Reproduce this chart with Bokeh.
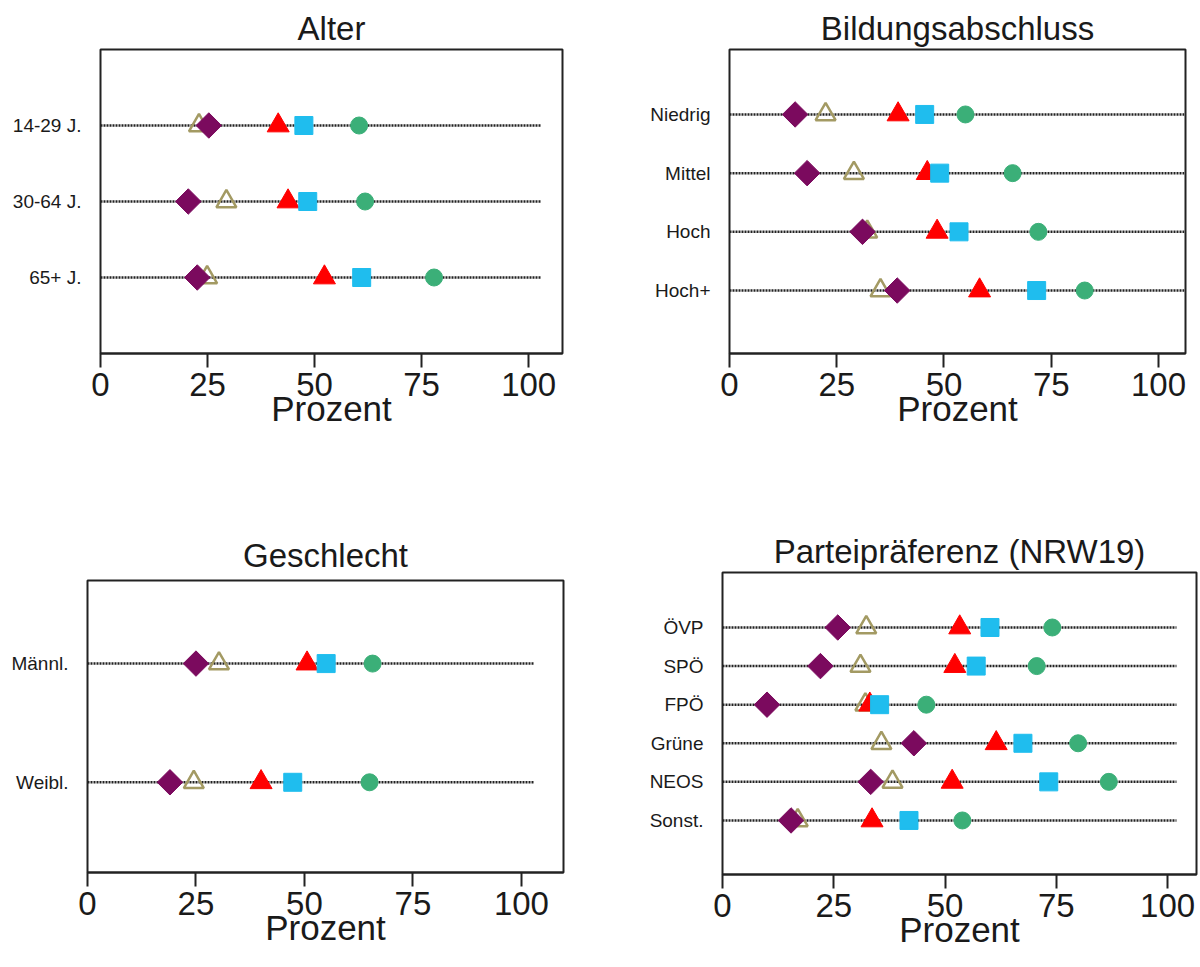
import math
from bokeh.plotting import figure
from bokeh.layouts import column, row
from bokeh.models import Range1d, FixedTicker, Spacer
from bokeh.embed import file_html
from bokeh.resources import INLINE

# ---------------- data ----------------
alter_cats = ["14-29 J.", "30-64 J.", "65+ J."]
alter_diamond = [25.3, 20.5, 22.6]
alter_open_tri = [23.0, 29.4, 24.9]
alter_red_tri = [41.5, 43.8, 52.3]
alter_square = [47.5, 48.4, 61.0]
alter_circle = [60.4, 61.8, 77.9]

bildung_cats = ["Niedrig", "Mittel", "Hoch", "Hoch+"]
bildung_diamond = [15.3, 18.1, 31.0, 39.1]
bildung_open_tri = [22.4, 29.0, 32.1, 35.2]
bildung_red_tri = [39.3, 46.1, 48.4, 58.3]
bildung_square = [45.5, 49.0, 53.5, 71.6]
bildung_circle = [55.0, 66.0, 72.0, 82.8]

geschlecht_cats = ["Männl.", "Weibl."]
geschlecht_diamond = [25.0, 19.0]
geschlecht_open_tri = [30.3, 24.5]
geschlecht_red_tri = [50.6, 40.0]
geschlecht_square = [55.0, 47.3]
geschlecht_circle = [65.7, 65.0]

partei_cats = ["ÖVP", "SPÖ", "FPÖ", "Grüne", "NEOS", "Sonst."]
partei_diamond = [25.9, 22.0, 10.0, 43.0, 33.3, 15.4]
partei_open_tri = [32.3, 31.0, 32.1, 35.7, 38.2, 16.9]
partei_red_tri = [53.3, 52.2, 33.1, 61.5, 51.6, 33.6]
partei_square = [60.1, 57.0, 35.3, 67.5, 73.3, 41.9]
partei_circle = [74.1, 70.6, 45.8, 79.9, 86.8, 53.9]

x_ticks = [0, 25, 50, 75, 100]
x_label = "Prozent"

# ---------------- style ----------------
FONT = "Liberation Sans"
C_DIAMOND = "#7B0A5E"
C_OPEN = "#A39A63"
C_RED = "#FF0000"
C_SQUARE = "#1FBDEE"
C_CIRCLE = "#3BAF78"
TEXT = "#1a1a1a"


def make_panel(title, cats, diamond, open_tri, red_tri, square, circle, *,
               mb_left, fw, mb_right, mb_top, fh, mb_bottom,
               x_end, y_start, y_end, dot_end=103, title_standoff=5):
    n = len(cats)
    pos = list(range(1, n + 1))
    p = figure(frame_width=fw, frame_height=fh,
               min_border_left=mb_left, min_border_right=mb_right,
               min_border_top=mb_top, min_border_bottom=mb_bottom,
               x_range=Range1d(0, x_end), y_range=Range1d(y_start, y_end),
               output_backend="svg", toolbar_location=None,
               title=title)
    p.grid.visible = False
    p.background_fill_color = "white"
    p.border_fill_color = "white"
    p.outline_line_color = "#222222"
    p.outline_line_width = 2

    p.title.text_font = FONT
    p.title.text_font_size = "33px"
    p.title.text_font_style = "normal"
    p.title.text_color = TEXT
    p.title.align = "center"
    p.title.standoff = title_standoff

    # dotted guide lines
    p.segment(x0=[0] * n, x1=[dot_end] * n, y0=pos, y1=pos,
              line_color="#222222", line_width=2.5, line_dash="2 1")

    p.scatter(open_tri, pos, marker="triangle", size=20, fill_color=None,
              line_color=C_OPEN, line_width=2.5)
    p.scatter(diamond, pos, marker="square", angle=math.pi / 4, size=18,
              fill_color=C_DIAMOND, line_color=C_DIAMOND)
    p.scatter(red_tri, pos, marker="triangle", size=22,
              fill_color=C_RED, line_color=C_RED)
    p.scatter(square, pos, marker="square", size=18,
              fill_color=C_SQUARE, line_color=C_SQUARE)
    p.scatter(circle, pos, marker="circle", size=17,
              fill_color=C_CIRCLE, line_color=C_CIRCLE)

    # y axis: labels only
    ya = p.yaxis[0]
    ya.ticker = FixedTicker(ticks=pos)
    ya.major_label_overrides = {i: c for i, c in zip(pos, cats)}
    ya.major_tick_line_color = None
    ya.minor_tick_line_color = None
    ya.axis_line_color = None
    ya.major_label_text_font = FONT
    ya.major_label_text_font_size = "19px"
    ya.major_label_text_color = TEXT
    ya.major_label_standoff = 13

    # x axis
    xa = p.xaxis[0]
    xa.ticker = FixedTicker(ticks=x_ticks)
    xa.minor_tick_line_color = None
    xa.major_tick_in = 0
    xa.major_tick_out = 14
    xa.major_tick_line_width = 2
    xa.major_tick_line_color = "#222222"
    xa.axis_line_width = 2
    xa.axis_line_color = "#222222"
    xa.major_label_text_font = FONT
    xa.major_label_text_font_size = "33px"
    xa.major_label_text_color = TEXT
    xa.major_label_standoff = 5
    xa.axis_label = x_label
    xa.axis_label_text_font = FONT
    xa.axis_label_text_font_size = "35px"
    xa.axis_label_text_font_style = "normal"
    xa.axis_label_text_color = TEXT
    xa.axis_label_standoff = -10
    return p


p1 = make_panel("Alter", alter_cats, alter_diamond, alter_open_tri,
                alter_red_tri, alter_square, alter_circle,
                mb_left=100, fw=462, mb_right=77, mb_top=49, fh=304, mb_bottom=135,
                x_end=107.9, y_start=4.0, y_end=0.0)
p2 = make_panel("Bildungsabschluss", bildung_cats, bildung_diamond, bildung_open_tri,
                bildung_red_tri, bildung_square, bildung_circle,
                mb_left=90, fw=456, mb_right=14, mb_top=49, fh=304, mb_bottom=135,
                x_end=106.3, y_start=5.073, y_end=-0.107, dot_end=106)
p3 = make_panel("Geschlecht", geschlecht_cats, geschlecht_diamond, geschlecht_open_tri,
                geschlecht_red_tri, geschlecht_square, geschlecht_circle,
                mb_left=87, fw=476, mb_right=69, mb_top=84, fh=292, mb_bottom=92,
                x_end=109.7, y_start=2.76, y_end=0.30, title_standoff=13)
p4 = make_panel("Parteipräferenz (NRW19)", partei_cats, partei_diamond, partei_open_tri,
                partei_red_tri, partei_square, partei_circle,
                mb_left=90, fw=474, mb_right=3, mb_top=84, fh=302, mb_bottom=92,
                x_end=106.5, y_start=7.40, y_end=-0.425, dot_end=102)

left_bottom = column(Spacer(width=87 + 476 + 69, height=8), p3)
layout = column(row(p1, p2), row(left_bottom, p4))
open("out.html", "w").write(file_html(layout, INLINE))
